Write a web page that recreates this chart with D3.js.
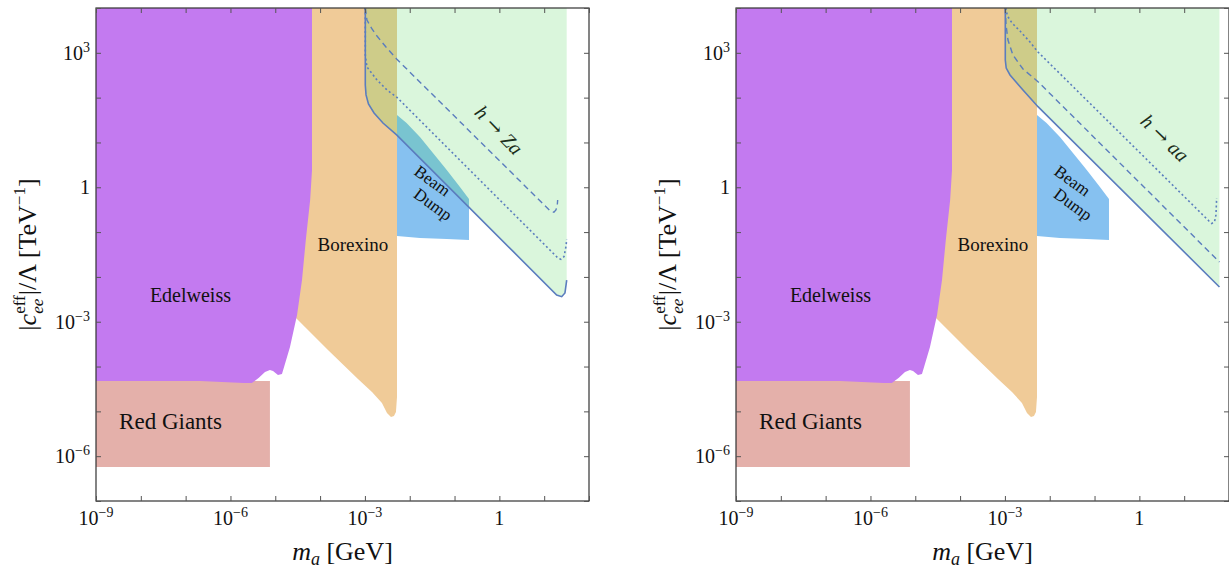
<!DOCTYPE html>
<html><head><meta charset="utf-8">
<script src="https://cdn.jsdelivr.net/npm/d3@7"></script>
<style>
body{margin:0;background:#fff}
svg{display:block}
text{font-family:"Liberation Serif","Times New Roman",serif;fill:#111}
</style>
</head><body>
<svg id="c" width="1229" height="568"></svg>
<script>
// ---------------- DATA ----------------
const massTicks = [1e-9,1e-8,1e-7,1e-6,1e-5,1e-4,1e-3,1e-2,1e-1,1,10,100];
const couplingTicks = [1e-7,1e-6,1e-5,1e-4,1e-3,1e-2,1e-1,1,10,100,1e3,1e4];
const massTickLabels = [[1e-9,"10","−9"],[1e-6,"10","−6"],[1e-3,"10","−3"],[1,"1",""]];
const couplingTickLabels = [[1e-6,"10","−6"],[1e-3,"10","−3"],[1,"1",""],[1e3,"10","3"]];

// [m_a (GeV), |c_ee|/Lambda (TeV^-1)]
const redGiants = [[1e-9,4.76e-5],[7.6e-6,4.76e-5],[7.6e-6,5.7e-7],[1e-9,5.7e-7]];
const edelweiss = [[1e-9,1e4],[6.6e-5,1e4],[6.6e-5,2.4],[6.0e-5,0.52],[4.8e-5,0.067],[3.95e-5,8.5e-3],
  [3.06e-5,1.41e-3],[2.13e-5,2.73e-4],[1.57e-5,9.8e-5],[1.41e-5,6.8e-5],[1.15e-5,6.5e-5],[8.9e-6,8.0e-5],
  [7.6e-6,8.4e-5],[5.9e-6,7.6e-5],[4.3e-6,5.6e-5],[3.0e-6,4.3e-5],[2.0e-6,4.3e-5],[2.1e-7,4.76e-5],[1e-9,4.76e-5]];
const borexino = [[1.27e-5,1e4],[5.2e-3,1e4],[5.2e-3,2.1e-5],[4.93e-3,9.7e-6],[4.45e-3,7.9e-6],[3.82e-3,7.5e-6],
  [3.11e-3,9.2e-6],[2.40e-3,1.54e-5],[1.44e-3,2.71e-5],[7.4e-4,5.0e-5],[3.33e-4,1.08e-4],[1.50e-4,2.34e-4],
  [4.6e-5,7.6e-4],[2.9e-5,1.21e-3],[1.27e-5,3.05e-3]];
const beamDump = [[5.2e-3,41],[8.5e-3,27],[0.0169,13.2],[0.033,5.8],[0.067,2.43],[0.132,1.01],[0.21,0.55],
  [0.21,0.067],[0.067,0.070],[0.0169,0.074],[5.2e-3,0.082]];

// h -> Z a (left panel)
const zaSolid = [[1.02e-3,1e4],[1.02e-3,191],[1.06e-3,115],[1.20e-3,72],[1.60e-3,45.4],[2.53e-3,27.2],[5.1e-3,14.7],
  [0.2,0.375],[2.0,0.0375],[19,3.95e-3],[24.6,3.62e-3],[29.1,4.38e-3],[31.8,8.5e-3]];
const zaDashed = [[1.02e-3,1e4],[1.11e-3,5390],[1.44e-3,3400],[1.86e-3,2370],[2.95e-3,1349],[5.1e-3,728],
  [13.5,0.30],[16.5,0.277],[18.3,0.311],[19.6,0.403],[20.0,0.52]];
const zaDotted = [[1.02e-3,1e4],[1.02e-3,893],[1.11e-3,483],[1.86e-3,248],[3.11e-3,148],[5.1e-3,103],
  [20.6,0.026],[23.7,0.0247],[27.7,0.0283],[30.6,0.0472],[31.8,0.069]];
const zaMassLimit = 31.8;

// h -> a a (right panel)
const aaSolid = [[1.02e-3,1e4],[1.02e-3,692],[1.07e-3,458],[1.30e-3,320],[1.77e-3,223],[2.53e-3,148],[5.47e-3,62.8],
  [61.2,5.96e-3]];
const aaDashed = [[1.02e-3,1e4],[1.06e-3,4180],[1.17e-3,1930],[1.51e-3,893],[2.53e-3,436],[5.47e-3,227],[61.2,0.0215]];
const aaDotted = [[1.04e-3,1e4],[1.14e-3,6640],[1.44e-3,4630],[2.17e-3,3070],[3.63e-3,1742],[5.47e-3,1042],
  [35.7,0.177],[41.0,0.156],[47.4,0.168],[51.2,0.241],[53,0.577]];
const aaMassLimit = 61.2;

// label anchor points (data coords)
const regionLabels = [
  {text:"Edelweiss", at:[1.28e-7,2.76e-3], size:20},
  {text:"Red Giants", at:[4.6e-8,4.05e-6], size:23},
  {text:"Borexino", at:[5.4e-4,0.0379], size:19}
];
const beamLabels = [{text:"Beam", at:[0.032,1.38]},{text:"Dump", at:[0.033,0.41]}];

// ---------------- DRAW ----------------
const PW = 493, PH = 493;
const x = d3.scaleLog().domain([1e-9,1e2]).range([0,PW]);
const y = d3.scaleLog().domain([1e-7,1e4]).range([PH,0]);
const line = d3.line().x(d=>x(d[0])).y(d=>y(d[1]));
const area = d => line(d) + "Z";

const colors = {
  red:"#E4B0AA", purple:"#C37AF0", orange:"#F0CB98", blue:"#86C1F0",
  green:"rgb(70,210,80)", line:"#5B7DBE"
};

const panels = [
  {x0:96, y0:8, solid:zaSolid, dashed:zaDashed, dotted:zaDotted, limit:zaMassLimit,
   decay:["h"," → ","Z","a"], decayAt:[0.98,19.0], decayRot:46},
  {x0:736, y0:8, solid:aaSolid, dashed:aaDashed, dotted:aaDotted, limit:aaMassLimit,
   decay:["h"," → ","a","a"], decayAt:[3.72,12.6], decayRot:44}
];

const svg = d3.select("#c");

panels.forEach((p,i)=>{
  const g = svg.append("g").attr("transform",`translate(${p.x0},${p.y0})`);
  g.append("clipPath").attr("id","clip"+i).append("rect").attr("width",PW).attr("height",PH);
  const plot = g.append("g").attr("clip-path",`url(#clip${i})`);

  plot.append("path").attr("d",area(redGiants)).attr("fill",colors.red);
  plot.append("path").attr("d",area(borexino)).attr("fill",colors.orange);
  plot.append("path").attr("d",area(edelweiss)).attr("fill",colors.purple);
  plot.append("path").attr("d",area(beamDump)).attr("fill",colors.blue);

  const greenPoly = [[p.limit, y.domain()[1]]].concat(p.solid.slice().reverse());
  plot.append("path").attr("d",area(greenPoly)).attr("fill",colors.green).attr("fill-opacity",0.2);

  plot.append("path").attr("d",line(p.dotted)).attr("fill","none").attr("stroke",colors.line)
    .attr("stroke-width",1.6).attr("stroke-dasharray","2,2.6");
  plot.append("path").attr("d",line(p.dashed)).attr("fill","none").attr("stroke",colors.line)
    .attr("stroke-width",1.4).attr("stroke-dasharray","6,4");
  plot.append("path").attr("d",line(p.solid)).attr("fill","none").attr("stroke",colors.line)
    .attr("stroke-width",1.6);

  // region labels
  regionLabels.forEach(l=>{
    g.append("text").attr("x",x(l.at[0])).attr("y",y(l.at[1])).attr("text-anchor","middle")
      .style("font-size",l.size+"px").text(l.text);
  });
  beamLabels.forEach(l=>{
    g.append("text").attr("transform",`translate(${x(l.at[0])},${y(l.at[1])}) rotate(36)`)
      .attr("text-anchor","middle").attr("dominant-baseline","central")
      .style("font-size","17px").text(l.text);
  });
  const dt = g.append("text").attr("transform",`translate(${x(p.decayAt[0])},${y(p.decayAt[1])}) rotate(${p.decayRot})`)
    .attr("text-anchor","middle").attr("dominant-baseline","central")
    .style("font-size","20px").style("fill","#1b2e1b");
  p.decay.forEach((s,k)=>{
    const ts = dt.append("tspan").style("font-style", k===1 ? "normal" : "italic").text(s);
    if(k===1) ts.style("font-family","'DejaVu Serif',serif").style("font-size","19px");
  });

  // frame
  g.append("rect").attr("width",PW).attr("height",PH).attr("fill","none")
    .attr("stroke","#333").attr("stroke-width",1.2);

  // ticks (inward) via axes
  const tk = 5;
  const axes = [
    [d3.axisBottom(x).tickValues(massTicks), `translate(0,${PH})`, -tk],
    [d3.axisTop(x).tickValues(massTicks), `translate(0,0)`, -tk],
    [d3.axisLeft(y).tickValues(couplingTicks), `translate(0,0)`, -tk],
    [d3.axisRight(y).tickValues(couplingTicks), `translate(${PW},0)`, -tk]
  ];
  axes.forEach(([ax,tr,s])=>{
    const a = g.append("g").attr("transform",tr)
      .call(ax.tickSizeInner(s).tickSizeOuter(0).tickFormat(""));
    a.select(".domain").remove();
    a.selectAll(".tick line").attr("stroke","#555").attr("stroke-width",1);
  });

  // tick labels
  massTickLabels.forEach(([v,b,e])=>{
    const t = g.append("text").attr("x",x(v)).attr("y",PH+24).attr("text-anchor","middle").style("font-size","20px");
    t.append("tspan").text(b);
    if(e) t.append("tspan").attr("dy",-8).style("font-size","14px").text(e);
  });
  couplingTickLabels.forEach(([v,b,e])=>{
    const t = g.append("text").attr("x",-6).attr("y",y(v)+7).attr("text-anchor","end").style("font-size","20px");
    t.append("tspan").text(b);
    if(e) t.append("tspan").attr("dy",-8).style("font-size","14px").text(e);
  });

  // x title
  const xt = g.append("text").attr("x",PW/2).attr("y",552).attr("text-anchor","middle").style("font-size","26px");
  xt.append("tspan").style("font-style","italic").text("m");
  xt.append("tspan").style("font-style","italic").style("font-size","18px").attr("dy",5).text("a");
  xt.append("tspan").attr("dy",-5).text(" [GeV]");

  // y title
  const yt = g.append("text").attr("transform",`translate(-60,${PH/2}) rotate(-90)`)
    .attr("text-anchor","middle").style("font-size","26px");
  yt.append("tspan").text("|");
  yt.append("tspan").style("font-style","italic").text("c");
  const eff = yt.append("tspan").style("font-size","17px").attr("dy",-11).text("eff");
  const ee = yt.append("tspan").style("font-size","17px").style("font-style","italic").attr("dy",18).text("ee");
  const rest = yt.append("tspan").attr("dy",-7).text("|/Λ [TeV");
  yt.append("tspan").style("font-size","17px").attr("dy",-11).text("−1");
  yt.append("tspan").attr("dy",11).text("]");
  const effW = eff.node().getComputedTextLength();
  const eeW = ee.node().getComputedTextLength();
  ee.attr("dx",-effW);
  rest.attr("dx",Math.max(0,effW-eeW));
});
</script>
</body></html>
